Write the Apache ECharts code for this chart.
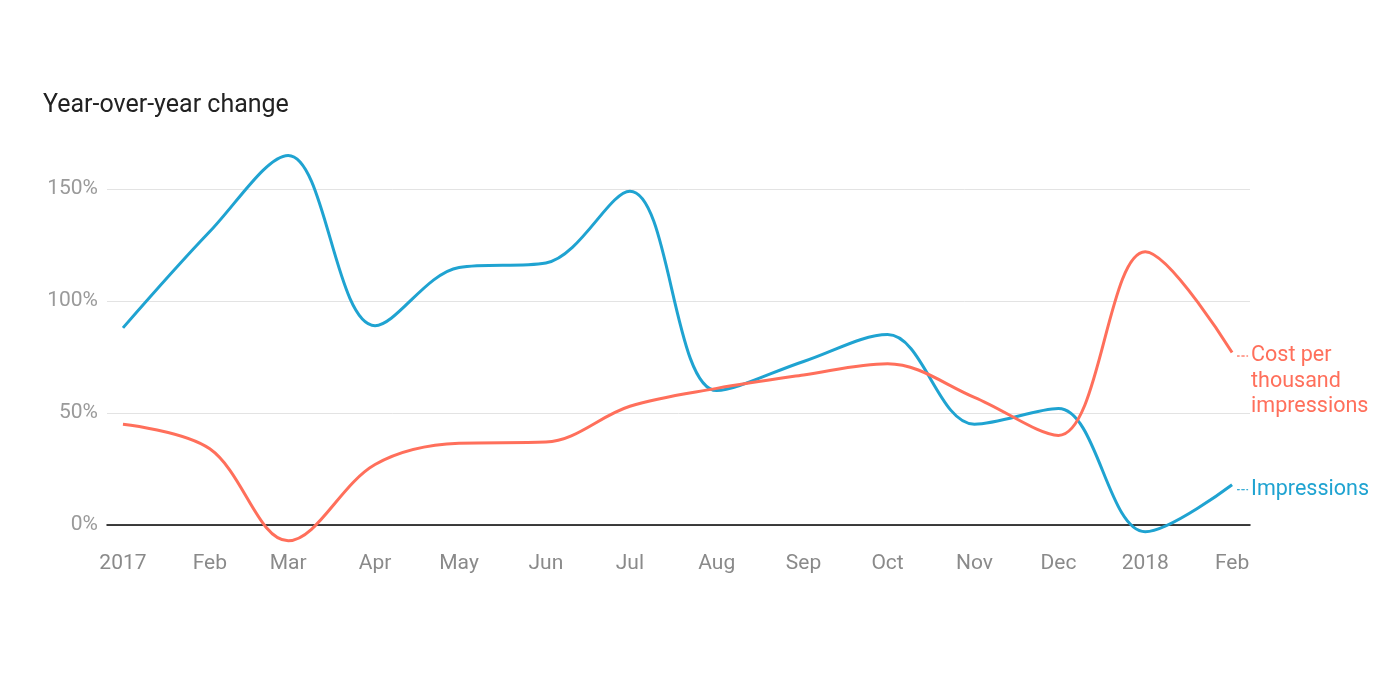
<!DOCTYPE html>
<html>
<head>
<meta charset="utf-8">
<script src="https://cdn.jsdelivr.net/npm/echarts@6/dist/echarts.min.js"></script>
<style>
html,body{margin:0;padding:0;background:#fff;}
#chart{width:1400px;height:700px;}
</style>
</head>
<body>
<div id="chart"></div>
<script>
const dates = ['2017-01-01','2017-02-01','2017-03-01','2017-04-01','2017-05-01','2017-06-01','2017-07-01','2017-08-01','2017-09-01','2017-10-01','2017-11-01','2017-12-01','2018-01-01','2018-02-01'];
const tickLabels = ['2017','Feb','Mar','Apr','May','Jun','Jul','Aug','Sep','Oct','Nov','Dec','2018','Feb'];
const impressions = [88, 131, 165, 89, 115, 117, 149, 60, 73, 85, 45, 52, -3, 18];
const cpm = [45, 34, -7, 27, 36.5, 37, 53, 61, 67, 72, 57, 40, 122, 77];

const BLUE = '#1fa3d1';
const RED = '#ff6f5b';
const FONT = 'Roboto';
const DAY = 86400000;

const t = dates.map(d => Date.UTC(+d.slice(0,4), +d.slice(5,7) - 1, +d.slice(8,10)));
const pair = vals => vals.map((v, i) => [t[i], v]);

const chart = echarts.init(document.getElementById('chart'), null, {renderer: 'canvas'});
chart.setOption({
  animation: false,
  backgroundColor: '#fff',
  title: {
    text: 'Year-over-year change',
    left: 38, top: 88,
    textStyle: {fontFamily: FONT, fontSize: 25, fontWeight: 'normal', color: '#222'}
  },
  grid: {left: 107, right: 150, top: 189, bottom: 175, containLabel: false},
  xAxis: {
    type: 'value',
    min: t[0] - 5.7 * DAY,
    max: t[t.length - 1] + 6.4 * DAY,
    axisLine: {show: true, onZero: true, lineStyle: {color: '#000', width: 1.5}},
    axisTick: {show: false},
    splitLine: {show: false},
    axisLabel: {
      customValues: t,
      formatter: v => { const i = t.indexOf(v); return i >= 0 ? tickLabels[i] : ''; },
      fontFamily: FONT, fontSize: 21, color: '#8a8a8a', margin: 28,
      hideOverlap: false
    }
  },
  yAxis: {
    type: 'value',
    min: 0, max: 150, interval: 50,
    axisLine: {show: false},
    axisTick: {show: false},
    splitLine: {lineStyle: {color: '#e3e3e3', width: 1}},
    axisLabel: {
      formatter: '{value}%',
      fontFamily: FONT, fontSize: 21, color: '#9a9a9a', margin: 9
    }
  },
  series: [
    {
      name: 'Impressions',
      type: 'line',
      data: pair(impressions),
      smooth: 0.35,
      clip: false,
      showSymbol: false,
      lineStyle: {color: BLUE, width: 3},
      itemStyle: {color: BLUE},
      endLabel: {
        show: true,
        distance: 5,
        offset: [0, 5],
        formatter: '{d|}{t|Impressions}',
        rich: {
          d: {width: 11, height: 0, borderColor: BLUE, borderWidth: 0.8, borderType: [3, 2]},
          t: {fontFamily: FONT, fontSize: 21.5, color: BLUE, padding: [0, 0, 0, 3]}
        }
      }
    },
    {
      name: 'Cost per thousand impressions',
      type: 'line',
      data: pair(cpm),
      smooth: 0.35,
      clip: false,
      showSymbol: false,
      lineStyle: {color: RED, width: 3},
      itemStyle: {color: RED},
      endLabel: {
        show: true,
        distance: 5,
        offset: [0, 29],
        formatter: '{d|}{t|Cost per}\n{p|}{t|thousand}\n{p|}{t|impressions}',
        rich: {
          d: {width: 11, height: 0, borderColor: RED, borderWidth: 0.8, borderType: [3, 2]},
          p: {width: 11, height: 0},
          t: {fontFamily: FONT, fontSize: 21.5, color: RED, lineHeight: 25.5, padding: [0, 0, 0, 3]}
        }
      }
    }
  ]
});
</script>
</body>
</html>
